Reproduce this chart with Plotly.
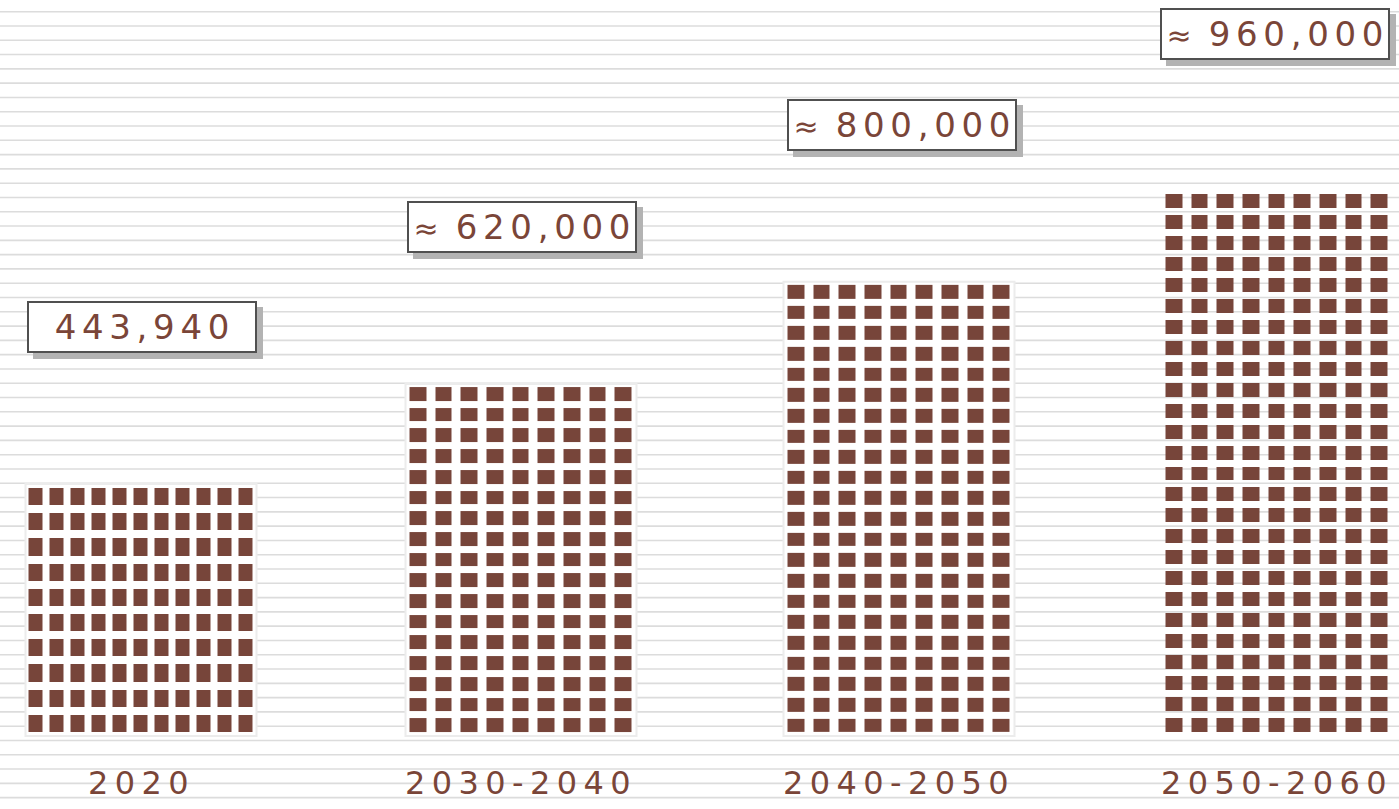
import plotly.graph_objects as go

# ---- data ----
categories = ["2020", "2030-2040", "2040-2050", "2050-2060"]
values = [443940, 620000, 800000, 960000]
approx = [False, True, True, True]
grid_cols = [11, 9, 9, 9]
grid_rows = [10, 17, 22, 26]
panel_filled = [True, True, True, False]

# ---- styling ----
W, H = 1399, 809
BROWN = "#77453A"
TEXT = "#7A4538"
FONT = "DejaVu Sans"
panel_left_px = [25.5, 405.5, 783.5, 1161.5]
panel_width_px = 231
panel_bottom_px = 736
tallest_px = 545
xgaps = [7, 9, 9, 9]
ygaps = [8, 7, 7, 7]
box_xshift = [1, 1, 3, -2]

def spaced(s, sep):
    return sep.join(list(s))

fig = go.Figure()
shapes = []
annotations = []

# background ruled lines
k = 0
while True:
    ypx = 11.7 + k * 14.29
    if ypx > H:
        break
    yp = 1 - ypx / H
    shapes.append(dict(type="line", xref="paper", yref="paper", x0=0, x1=1, y0=yp, y1=yp,
                       line=dict(color="#dcdcdc", width=1.6), layer="below"))
    k += 1

vmax = max(values)
for i, (cat, v) in enumerate(zip(categories, values)):
    n = i + 1
    xs = "" if n == 1 else str(n)
    h_px = tallest_px * v / vmax
    x0 = panel_left_px[i] / W
    x1 = (panel_left_px[i] + panel_width_px) / W
    y0 = 1 - panel_bottom_px / H
    y1 = 1 - (panel_bottom_px - h_px) / H
    rows, cols = grid_rows[i], grid_cols[i]
    z = [[1] * cols for _ in range(rows)]
    fig.add_trace(go.Heatmap(z=z, colorscale=[[0, BROWN], [1, BROWN]], showscale=False,
                             xgap=xgaps[i], ygap=ygaps[i], hoverinfo="skip",
                             xaxis="x" + xs, yaxis="y" + xs))
    fig.update_layout(**{
        "xaxis" + xs: dict(domain=[x0, x1], range=[-0.5, cols - 0.5], visible=False,
                           anchor="y" + xs, fixedrange=True),
        "yaxis" + xs: dict(domain=[y0, y1], range=[-0.5, rows - 0.5], visible=False,
                           anchor="x" + xs, fixedrange=True),
    })
    if panel_filled[i]:
        shapes.append(dict(type="rect", xref="paper", yref="paper", x0=x0, x1=x1, y0=y0, y1=y1,
                           fillcolor="white", line=dict(color="#ececec", width=2), layer="below"))
    num = spaced(f"{v:,}", "\u2006")
    if approx[i]:
        label = "<span style='font-size:30px'>\u2248</span>\u2006\u2006\u2006" + num
    else:
        label = num
    common = dict(xref="x" + xs + " domain", yref="y" + xs + " domain", x=0, y=1,
                  xanchor="left", yanchor="bottom", width=226, height=48,
                  showarrow=False, borderpad=0)
    # shadow
    annotations.append(dict(text=" ", bgcolor="#b3b3b3", borderwidth=2, bordercolor="#b3b3b3",
                            xshift=box_xshift[i] + 6, yshift=125, **common))
    annotations.append(dict(text=label, bgcolor="white", borderwidth=2, bordercolor="#505050",
                            font=dict(family=FONT, size=34, color=TEXT),
                            xshift=box_xshift[i], yshift=131, **common))
    # category label
    annotations.append(dict(text=spaced(cat, "\u2009"), xref="x" + xs + " domain",
                            yref="y" + xs + " domain",
                            x=0.5, y=0, xanchor="center", yanchor="middle", yshift=-47, xshift=-3,
                            showarrow=False, font=dict(family=FONT, size=32, color=TEXT)))

fig.update_layout(width=W, height=H, margin=dict(l=0, r=0, t=0, b=0),
                  paper_bgcolor="white", plot_bgcolor="rgba(0,0,0,0)",
                  showlegend=False, shapes=shapes, annotations=annotations)

fig.write_html("out.html")
